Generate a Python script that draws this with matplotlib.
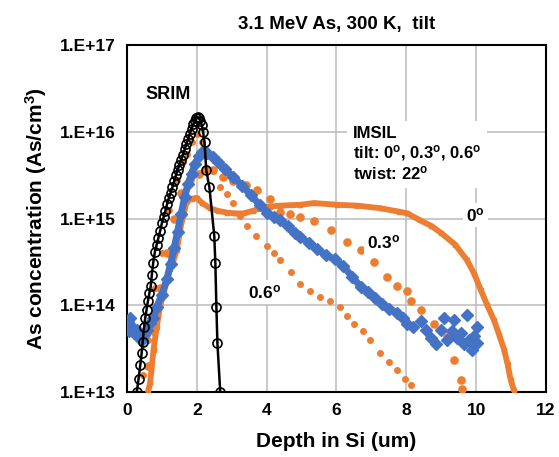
import numpy as np
import matplotlib
matplotlib.use("Agg")
import matplotlib.pyplot as plt

plt.rcParams['font.family'] = ['Liberation Sans', 'DejaVu Sans']
plt.rcParams['font.weight'] = 'bold'
plt.rcParams['mathtext.fontset'] = 'custom'
plt.rcParams['mathtext.rm'] = 'Liberation Sans:bold'
plt.rcParams['mathtext.it'] = 'Liberation Sans:bold'
plt.rcParams['mathtext.bf'] = 'Liberation Sans:bold'

# ---- data (depth in um, log10 of concentration in As/cm^3) ----
srim_x = [0.28, 0.33, 0.38, 0.42, 0.45, 0.49, 0.52, 0.56, 0.60, 0.64, 0.68, 0.71, 0.75, 0.80,
          0.85, 0.90, 0.95, 1.00, 1.05, 1.10, 1.15, 1.20, 1.25, 1.30, 1.35, 1.40, 1.45, 1.50,
          1.55, 1.60, 1.65, 1.70, 1.75, 1.80, 1.85, 1.90, 1.94, 1.98, 2.02, 2.06, 2.10, 2.14,
          2.18, 2.22, 2.27, 2.36, 2.50, 2.53, 2.56, 2.59, 2.67]
srim_log = [13.00, 13.15, 13.31, 13.45, 13.58, 13.75, 13.85, 13.95, 14.05, 14.14, 14.22, 14.35, 14.49, 14.62,
            14.70, 14.78, 14.86, 14.95, 15.02, 15.09, 15.17, 15.24, 15.30, 15.36, 15.43, 15.50, 15.56, 15.62,
            15.68, 15.74, 15.80, 15.86, 15.92, 15.98, 16.04, 16.09, 16.13, 16.16, 16.17, 16.16, 16.13, 16.08,
            16.00, 15.88, 15.56, 15.36, 14.80, 14.49, 13.98, 13.56, 13.00]

blue_x = [0.00, 0.05, 0.10, 0.15, 0.20, 0.28, 0.35, 0.42, 0.50, 0.58, 0.66, 0.75, 0.85, 1.00, 1.14,
          1.25, 1.35, 1.45, 1.55, 1.65, 1.75, 1.85, 1.95, 2.05, 2.15, 2.30, 2.45, 2.60, 2.80,
          3.05, 3.30, 3.55, 3.80, 4.01, 4.20, 4.39, 4.60, 4.80, 4.96, 5.20, 5.45, 5.70, 5.95, 6.20, 6.45,
          6.70, 6.90, 7.10, 7.30, 7.50, 7.74, 7.90, 8.03, 8.20, 8.41, 8.55, 8.70, 8.84, 8.98, 9.08,
          9.17, 9.30, 9.36, 9.45, 9.56, 9.65, 9.75, 9.80, 9.89, 9.95, 10.03, 10.03]
blue_log = [13.78, 13.70, 13.85, 13.75, 13.68, 13.72, 13.62, 13.60, 13.66, 13.72, 13.80, 13.85, 13.98, 14.12, 14.30,
            14.48, 14.66, 14.85, 15.05, 15.25, 15.40, 15.52, 15.63, 15.72, 15.77, 15.76, 15.71, 15.65, 15.57,
            15.48, 15.38, 15.27, 15.16, 15.07, 15.02, 14.98, 14.91, 14.84, 14.79, 14.72, 14.65, 14.58, 14.53, 14.45, 14.33,
            14.21, 14.15, 14.09, 14.02, 13.96, 13.91, 13.85, 13.78, 13.75, 13.82, 13.72, 13.62, 13.55, 13.72, 13.85,
            13.60, 13.70, 13.83, 13.62, 13.68, 13.55, 13.89, 13.60, 13.49, 13.65, 13.56, 13.75]

t0_x = [0.60, 0.66, 0.70, 0.76, 0.85, 0.95, 1.05, 1.15, 1.23, 1.33, 1.43, 1.52, 1.62, 1.71, 1.85, 2.00, 2.15,
        2.38, 2.60, 2.86, 3.10, 3.34, 3.60, 3.82, 4.10, 4.39, 4.96, 5.35, 6.02, 6.60, 7.26, 7.80,
        8.03, 8.40, 8.70, 8.98, 9.40, 9.74, 9.95, 10.13, 10.32, 10.51, 10.66, 10.80, 10.90, 10.99, 11.08]
t0_log = [13.00, 13.10, 13.25, 13.49, 13.75, 13.99, 14.15, 14.30, 14.42, 14.52, 14.64, 14.87, 15.05, 15.20, 15.23, 15.24, 15.18,
          15.12, 15.09, 15.07, 15.06, 15.06, 15.09, 15.12, 15.14, 15.15, 15.16, 15.18, 15.16, 15.15, 15.12, 15.08,
          15.06, 14.98, 14.92, 14.84, 14.70, 14.52, 14.36, 14.18, 14.00, 13.83, 13.66, 13.49, 13.32, 13.14, 13.02]

t3_x = [0.60, 0.75, 0.95, 1.15, 1.35, 1.55, 1.80, 2.05, 2.25, 2.47, 2.75, 3.05, 3.40, 3.72, 4.10,
        4.39, 4.66, 4.96, 5.35, 5.83, 6.30, 6.69, 7.07, 7.45, 7.74, 8.03, 8.12, 8.41, 8.79, 9.17, 9.36, 9.56, 9.60]
t3_log = [13.30, 13.70, 14.20, 14.60, 15.00, 15.30, 15.45, 15.52, 15.57, 15.56, 15.48, 15.44, 15.39, 15.33, 15.23,
          15.08, 15.05, 15.02, 14.97, 14.87, 14.73, 14.64, 14.50, 14.33, 14.22, 14.16, 14.05, 13.95, 13.79, 13.64, 13.37, 13.14, 13.03]

t6_x = [0.45, 0.60, 0.80, 1.00, 1.20, 1.43, 1.60, 1.71, 1.86, 2.00, 2.15, 2.27, 2.45, 2.67, 2.85, 3.05,
        3.25, 3.43, 3.70, 4.01, 4.20, 4.39, 4.70, 4.96, 5.25, 5.54, 5.80, 6.11, 6.30, 6.49, 6.75,
        6.97, 7.26, 7.50, 7.74, 7.95, 8.12]
t6_log = [13.20, 13.60, 14.20, 14.60, 15.10, 15.45, 15.65, 15.75, 15.89, 15.98, 15.88, 15.72, 15.55, 15.37, 15.28, 15.18,
          15.03, 14.91, 14.80, 14.68, 14.60, 14.52, 14.38, 14.25, 14.17, 14.10, 14.05, 13.98, 13.88, 13.79, 13.70,
          13.60, 13.45, 13.35, 13.25, 13.15, 13.08]

xticks = [0, 2, 4, 6, 8, 10, 12]
yticks = [1e13, 1e14, 1e15, 1e16, 1e17]
ytick_labels = ['1.E+13', '1.E+14', '1.E+15', '1.E+16', '1.E+17']

ORANGE = '#ED7D31'
BLUE = '#4472C4'

def conc(v):
    return np.power(10.0, np.array(v))

fig = plt.figure(figsize=(5.59, 4.57), dpi=100)
ax = fig.add_axes([0.2272, 0.1422, 0.7495, 0.7587])

ax.plot(t0_x, conc(t0_log), color=ORANGE, lw=4.2, marker='s', ms=3.5, mec=ORANGE, zorder=3)
ax.plot(t3_x, conc(t3_log), ls='none', marker='o', ms=5.2, color=ORANGE, mec=ORANGE, zorder=3)
ax.plot(t6_x, conc(t6_log), ls='none', marker='o', ms=4.0, color=ORANGE, mec=ORANGE, zorder=3)
n_band = 53  # continuous band part of the blue profile
ax.plot(blue_x[:n_band], conc(blue_log[:n_band]), color=BLUE, lw=5, zorder=4,
        solid_capstyle='round')
ax.plot(blue_x, conc(blue_log), ls='none', marker='D', ms=6.3, color=BLUE, mec=BLUE, zorder=4)
ax.plot(srim_x, conc(srim_log), color='black', lw=1.8, marker='o', ms=6.5, mfc='none',
        mec='black', mew=1.2, zorder=5)

ax.set_yscale('log')
ax.set_xlim(0, 12)
ax.set_ylim(1e13, 1e17)
ax.set_xticks(xticks)
ax.set_xticklabels([str(t) for t in xticks])
ax.set_yticks(yticks)
ax.set_yticklabels(ytick_labels)
ax.yaxis.set_minor_locator(matplotlib.ticker.NullLocator())
ax.tick_params(length=0, labelsize=12.5, pad=8)
for lab in ax.get_xticklabels() + ax.get_yticklabels():
    lab.set_fontweight('bold')
ax.grid(True, color='#c0c0c0', lw=1.2, zorder=0)
ax.set_axisbelow(True)
for s in ax.spines.values():
    s.set_color('black')
    s.set_linewidth(1.5)

ax.set_xlabel('Depth in Si (um)', fontsize=15, fontweight='bold', labelpad=10)
ax.set_ylabel(r'As concentration (As/cm$^{3}$)', fontsize=15, fontweight='bold', labelpad=8)
ax.set_title('3.1 MeV As, 300 K,  tilt', fontsize=13.5, fontweight='bold', pad=12)

box = dict(facecolor='white', edgecolor='none', pad=2)
ax.text(0.52, 2.7e16, 'SRIM', fontsize=13, fontweight='bold', ha='left', va='center',
        bbox=box, zorder=6)
ax.text(6.47, 5.5e15, 'IMSIL\ntilt: 0$^{o}$, 0.3$^{o}$, 0.6$^{o}$\ntwist: 22$^{o}$', fontsize=12,
        fontweight='bold', ha='left', va='center', linespacing=1.1,
        bbox=dict(facecolor='white', edgecolor='none', pad=4), zorder=6)
ax.text(9.98, 1.1e15, '0$^{o}$', fontsize=12.5, fontweight='bold', ha='center', va='center',
        bbox=box, zorder=6)
ax.text(7.35, 5.4e14, '0.3$^{o}$', fontsize=12.5, fontweight='bold', ha='center', va='center',
        bbox=box, zorder=6)
ax.text(3.93, 1.43e14, '0.6$^{o}$', fontsize=12.5, fontweight='bold', ha='center', va='center',
        bbox=box, zorder=6)

fig.savefig('out.png', dpi=100)
